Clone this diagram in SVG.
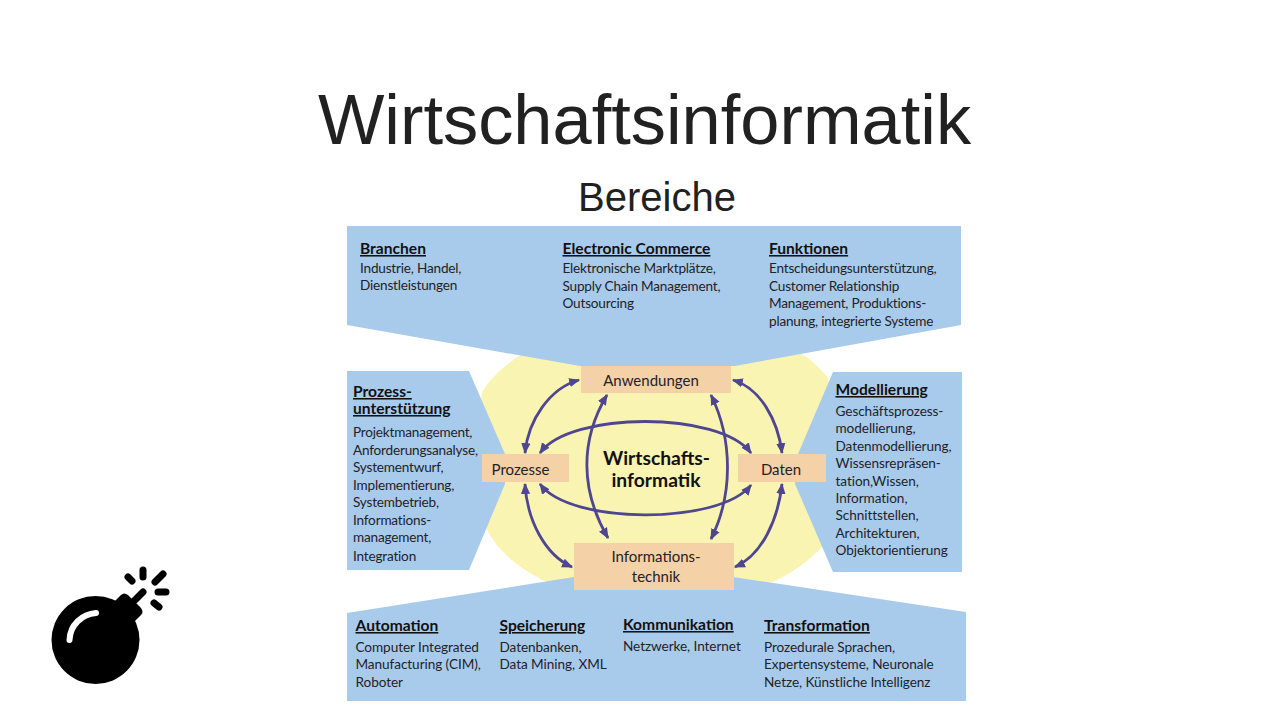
<svg xmlns="http://www.w3.org/2000/svg" width="1280" height="720" viewBox="0 0 1280 720">
<style>
.ttl{font-family:"Liberation Sans",Arial,sans-serif;fill:#212121;text-anchor:middle}
.t{font-family:Lato,"Noto Sans",sans-serif;font-size:13.6px;letter-spacing:-.2px;fill:#1f2228}
.w{letter-spacing:-.07px}
.h{font-family:Lato,"Noto Sans",sans-serif;font-size:15.6px;font-weight:700;fill:#111;text-decoration:underline}
.n{font-family:Lato,"Noto Sans",sans-serif;font-size:15px;fill:#1f2228;text-anchor:middle}
.blue{fill:#a9cbeb}
.box{fill:#f4d1a7}
.arr{fill:none;stroke:#4f4691;stroke-width:2.8;marker-start:url(#a);marker-end:url(#a)}
.k{fill:none;stroke:#000;stroke-width:7;stroke-linecap:round}
</style>
<defs>
<marker id="a" viewBox="0 0 10 10" refX="9" refY="5" markerWidth="11" markerHeight="11" markerUnits="userSpaceOnUse" orient="auto-start-reverse"><path d="M0,0.8L10,5L0,9.2Z" fill="#4f4691"/></marker>
</defs>
<rect width="1280" height="720" fill="#fff"/>
<text class="ttl" x="644.5" y="144" font-size="70.4">Wirtschaftsinformatik</text>
<text class="ttl" x="657" y="211" font-size="40">Bereiche</text>

<path id="hintergrund" d="M522,354C505,365 490,378 482,392L470,470L487,530C500,555 525,572 547,582L772,582C790,575 810,560 822,547L835,470L828,378C820,368 812,360 800,353Z" fill="#faf4b2"/>
<g id="bereich-top">
<polygon class="blue" points="347,226 961,226 961,325 735,366 580,366 347,325"/>
<text class="h" x="360" y="254">Branchen</text>
<text class="t"><tspan x="360" y="273">Industrie, Handel,</tspan><tspan x="360" y="290">Dienstleistungen</tspan></text>
<text class="h" x="562.500" y="254">Electronic Commerce</text>
<text class="t"><tspan x="562.500" y="273">Elektronische Marktplätze,</tspan><tspan x="562.500" y="291">Supply Chain Management,</tspan><tspan x="562.500" y="308">Outsourcing</tspan></text>
<text class="h" x="769" y="254">Funktionen</text>
<text class="t"><tspan x="769" y="273">Entscheidungsunterstützung,</tspan><tspan x="769" y="291">Customer Relationship</tspan><tspan x="769" y="308">Management, Produktions-</tspan><tspan x="769" y="326">planung, integrierte Systeme</tspan></text>
</g>
<g id="bereich-left">
<polygon class="blue" points="347,371 469,371 505,454 505,484 469,570 347,570"/>
<text class="h"><tspan x="353" y="397">Prozess-</tspan><tspan x="353" y="414">unterstützung</tspan></text>
<text class="t"><tspan x="353" y="437">Projektmanagement,</tspan><tspan x="353" y="455">Anforderungsanalyse,</tspan><tspan x="353" y="472">Systementwurf,</tspan><tspan x="353" y="490">Implementierung,</tspan><tspan x="353" y="507">Systembetrieb,</tspan><tspan x="353" y="525">Informations-</tspan><tspan x="353" y="542">management,</tspan><tspan x="353" y="561">Integration</tspan></text>
</g>
<g id="bereich-right">
<polygon class="blue" points="962,372 833,372 798,454 795,484 833,572 962,572"/>
<text class="h" x="835.500" y="395">Modellierung</text>
<text class="t w"><tspan x="835.500" y="416">Geschäftsprozess-</tspan><tspan x="835.500" y="433">modellierung,</tspan><tspan x="835.500" y="451">Datenmodellierung,</tspan><tspan x="835.500" y="468">Wissensrepräsen-</tspan><tspan x="835.500" y="486">tation,Wissen,</tspan><tspan x="835.500" y="503">Information,</tspan><tspan x="835.500" y="520">Schnittstellen,</tspan><tspan x="835.500" y="538">Architekturen,</tspan><tspan x="835.500" y="555">Objektorientierung</tspan></text>
</g>
<g id="bereich-bottom">
<polygon class="blue" points="347,613 574,577 733,577 966,612 966,701 347,701"/>
<text class="h" x="355.500" y="631">Automation</text>
<text class="t w"><tspan x="355.500" y="652">Computer Integrated</tspan><tspan x="355.500" y="669">Manufacturing (CIM),</tspan><tspan x="355.500" y="687">Roboter</tspan></text>
<text class="h" x="499.500" y="631">Speicherung</text>
<text class="t w"><tspan x="499.500" y="652">Datenbanken,</tspan><tspan x="499.500" y="669">Data Mining, XML</tspan></text>
<text class="h" x="623" y="630">Kommunikation</text>
<text class="t w" x="623" y="651">Netzwerke, Internet</text>
<text class="h" x="764" y="631">Transformation</text>
<text class="t w"><tspan x="764" y="652">Prozedurale Sprachen,</tspan><tspan x="764" y="669">Expertensysteme, Neuronale</tspan><tspan x="764" y="687">Netze, Künstliche Intelligenz</tspan></text>
</g>

<g id="connectors">
<path class="arr" d="M579,380C550,388 528,420 525,453"/>
<path class="arr" d="M525,484C527,520 545,555 572,567"/>
<path class="arr" d="M733,380C760,388 778,420 782,453"/>
<path class="arr" d="M782,484C778,520 762,555 735,567"/>
<path class="arr" d="M607,395C580,440 580,490 608,538"/>
<path class="arr" d="M711,395C733,440 733,495 711,539"/>
<path class="arr" d="M540,453C570,411 720,411 751,453"/>
<path class="arr" d="M540,484C570,525 720,525 751,485"/>
</g>

<g id="anwendungen"><rect class="box" x="581" y="366" width="150" height="27"/><text class="n" x="651" y="386">Anwendungen</text></g>
<g id="prozesse"><rect class="box" x="482" y="454" width="87" height="28"/><text class="n" x="520.500" y="475">Prozesse</text></g>
<g id="daten"><rect class="box" x="738" y="454" width="88" height="28"/><text class="n" x="781" y="475">Daten</text></g>
<g id="informationstechnik"><rect class="box" x="574" y="543" width="160" height="47"/><text class="n"><tspan x="656" y="562">Informations-</tspan><tspan x="656" y="582">technik</tspan></text></g>
<g id="zentrum"><text font-family="Lato,'Noto Sans',sans-serif" font-size="19.3px" font-weight="700" fill="#111" text-anchor="middle"><tspan x="656.500" y="465">Wirtschafts-</tspan><tspan x="656" y="487">informatik</tspan></text></g>

<g id="bomb">
<circle cx="95.500" cy="640" r="44"/>
<path d="M113,603L121,595Q124,592 128,595L141,608Q144,612 141,615L133,623Z"/>
<path class="k" d="M133,602L143,592M128,577L132,581M143,570V577M155,582L163,574M158,592H166M154,603L159,607"/>
<path d="M69.500,640C70,625 82,614 96,613" fill="none" stroke="#fff" stroke-width="6" stroke-linecap="round"/>
</g>
</svg>
